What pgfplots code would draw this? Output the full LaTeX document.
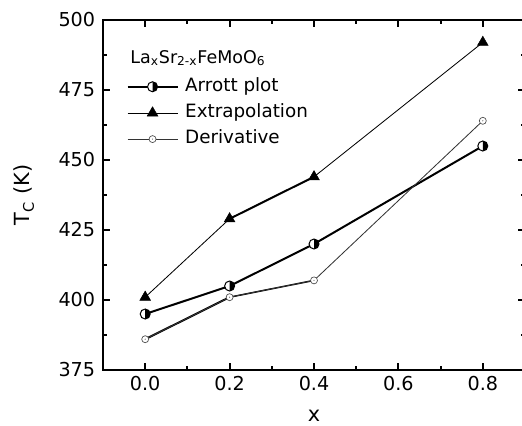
\documentclass[border=0pt]{standalone}
\usepackage{fontspec}
\setmainfont{DejaVu Sans}
\usepackage{pgfplots}
\pgfplotsset{compat=1.18}

% half-filled circle: left white, right black
\pgfdeclareplotmark{halfr}{%
  \pgfpathcircle{\pgfpointorigin}{\pgfplotmarksize}%
  \pgfsetfillcolor{white}\pgfusepathqfill
  \pgfpathmoveto{\pgfqpoint{0pt}{\pgfplotmarksize}}%
  \pgfpatharc{90}{-90}{\pgfplotmarksize}%
  \pgfpathclose
  \pgfsetfillcolor{black}\pgfusepathqfill
  \pgfpathcircle{\pgfpointorigin}{\pgfplotmarksize}%
  \pgfusepathqstroke}
% open circle with a dot in the middle
\pgfdeclareplotmark{dotcirc}{%
  \pgfpathcircle{\pgfpointorigin}{\pgfplotmarksize}%
  \pgfsetfillcolor{white}\pgfusepathqfillstroke
  \pgfpathcircle{\pgfpointorigin}{0.35pt}%
  \pgfsetfillcolor{black!70}\pgfusepathqfill}

\begin{document}
\begin{tikzpicture}
\begin{axis}[
    scale only axis, width=253.2pt, height=210pt,
    xmin=-0.1, xmax=0.9, ymin=375, ymax=500,
    xtick={0,0.2,0.4,0.6,0.8}, ytick={375,400,...,500},
    minor x tick num=1, minor y tick num=1,
    xtick pos=both, ytick pos=both,
    tick align=inside,
    major tick length=4.2pt, minor tick length=2.4pt,
    tick style={line width=1.1pt, black},
    axis line style={line width=1.2pt},
    /pgf/number format/assume math mode=true,
    x tick label style={/pgf/number format/fixed,
      /pgf/number format/fixed zerofill, /pgf/number format/precision=1},
    tick label style={font=\fontsize{11.5}{13}\selectfont},
    yticklabel style={xshift=-1.2pt},
    xlabel={x}, ylabel={T\textsubscript{C} (K)},
    label style={font=\fontsize{12.5}{14}\selectfont},
    xlabel style={at={(axis description cs:0.5,0)}, anchor=center, yshift=-27.3pt},
    ylabel style={at={(axis description cs:0,0.5)}, anchor=center, yshift=47.4pt},
    legend cell align=left,
    legend style={at={(rel axis cs:0.055,0.84)}, anchor=north west,
      draw=none, fill=none, inner sep=0pt, row sep=3.2pt, column sep=3pt,
      nodes={inner sep=1pt, text height=8pt, text depth=2.5pt,
        font=\fontsize{11}{13}\selectfont}},
    legend image code/.code={%
      \draw[mark repeat=2,mark phase=2,#1]
        plot coordinates {(0pt,0pt) (15pt,0pt) (30pt,0pt)};},
  ]
  % heavier segments
  \addplot[forget plot, line width=1.2pt] coordinates {(0.2,429) (0.4,444)};
  \addplot[forget plot, line width=1.2pt] coordinates {(0,386) (0.2,401)};
  \addplot[forget plot, line width=0.9pt] coordinates {(0.2,401) (0.4,407)};

  \addplot[line width=1.2pt, mark=halfr, mark size=3pt,
    mark options={line width=0.6pt}]
    coordinates {(0,395) (0.2,405) (0.4,420) (0.8,455)};
  \addplot[line width=0.5pt, mark=triangle*, mark size=3.7pt,
    mark options={line width=0.3pt}]
    coordinates {(0,401) (0.2,429) (0.4,444) (0.8,492)};
  \addplot[line width=0.5pt, black!80, mark=dotcirc, mark size=2.1pt,
    mark options={line width=0.4pt, black!70}]
    coordinates {(0,386) (0.2,401) (0.4,407) (0.8,464)};
  \legend{Arrott plot, Extrapolation, Derivative}

  \node[anchor=base west, inner sep=0pt, font=\fontsize{10.5}{12}\selectfont]
    at ([xshift=16.2pt, yshift=-25.8pt]rel axis cs:0,1)
    {La\textsubscript{x}Sr\textsubscript{2-x}FeMoO\textsubscript{6}};
\end{axis}
\pgfresetboundingbox
\path[use as bounding box] ([shift={(-61.8pt,-33pt)}]current axis.south west)
  rectangle ([shift={(-1.8pt,12pt)}]current axis.north east);
\end{tikzpicture}
\end{document}
